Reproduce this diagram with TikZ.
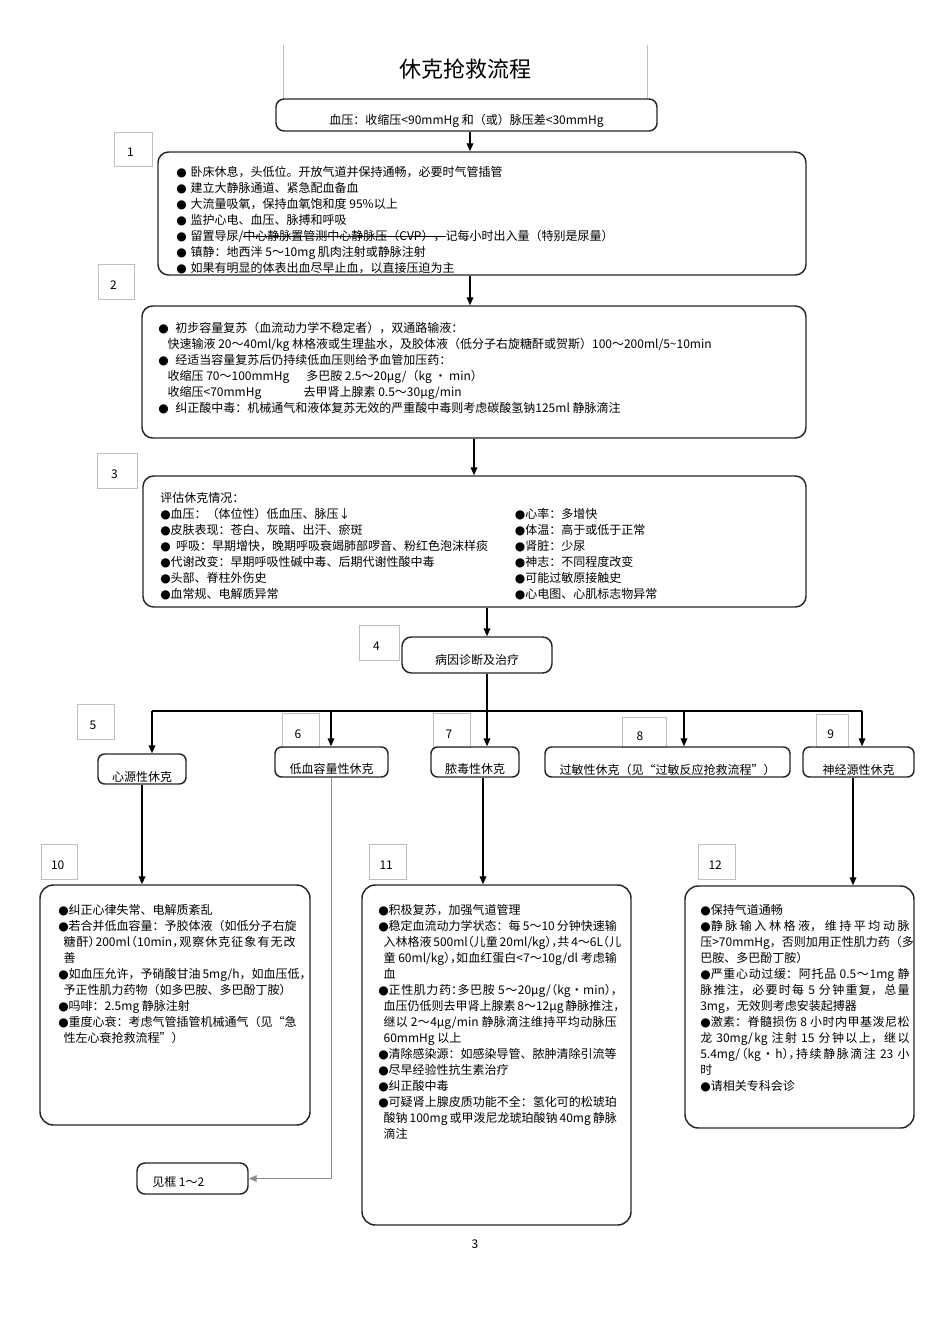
\documentclass[tikz,border=0pt]{standalone}
\usepackage{fontspec}
\setmainfont{Noto Sans CJK SC}
\newfontfamily\dotfont{DejaVu Sans}
\newfontfamily\halffont[RawFeature=+halt]{Noto Sans CJK SC}
\usepackage{tikz}
\usetikzlibrary{
  arrows.meta,
  fit,
  positioning
}
\XeTeXlinebreaklocale "zh"
\XeTeXlinebreakskip=0pt plus 1pt
\XeTeXlinebreakpenalty=10000
\setlength{\parindent}{0pt}
\newcommand{\blt}{{\dotfont ●}}
\newsavebox{\strikebox}
\newcommand{\strikeout}[1]{\sbox{\strikebox}{#1}\rlap{\rule[0.32em]{\wd\strikebox}{0.6pt}}\usebox{\strikebox}}
\tikzset{
  >={Triangle[length=6pt,width=5pt]},
  every label/.style={inner sep=0pt, font=\fontsize{9}{11}\selectfont},
  flowbox/.style={draw=black!85, line width=1.1pt, rounded corners=8pt, inner sep=0pt},
  tagbox/.style={flowbox, rounded corners=5pt},
  numbox/.style={draw=black!25, line width=0.5pt, inner sep=0pt},
  bodytext/.style={inner sep=0pt, anchor=north west, align=left,
    font=\fontsize{9}{12}\selectfont},
  longtext/.style={inner sep=0pt, anchor=north west, align=justify,
    font=\fontsize{9}{12}\selectfont},
  link/.style={->, line width=1.1pt}
}

\begin{document}
\begin{tikzpicture}[x=0.75pt, y=-0.75pt]
    \useasboundingbox[fill=white] (0,0) rectangle (950,1344);
    % title
    \draw[black!25] (283,45) -- (283,99);
    \draw[black!25] (647,45) -- (647,99);
    \node[font=\fontsize{16.5}{20}\selectfont] (title) at (465,69) {休克抢救流程};
    \node[tagbox, rounded corners=6pt, fit={(276,99) (657,131)},
      label={[yshift=-4.5pt]center:血压：收缩压<90mmHg 和（或）脉压差<30mmHg}] (bp) {};
    % step boxes
    \node[numbox, fit={(114,132) (152,166)}, label={[yshift=-2.5pt, xshift=-2pt]center:1}] (n1) {};
    \node[flowbox, fit={(158,152) (806,275)}] (b1) {};
    \node[bodytext] (t1) at (176,166.5) {%
      \blt\hspace{3pt}卧床休息，头低位。开放气道并保持通畅，必要时气管插管\\
      \blt\hspace{3pt}建立大静脉通道、紧急配血备血\\
      \blt\hspace{3pt}大流量吸氧，保持血氧饱和度 95\%以上\\
      \blt\hspace{3pt}监护心电、血压、脉搏和呼吸\\
      \blt\hspace{3pt}留置导尿/\strikeout{中心静脉置管测中心静脉压（CVP），}记每小时出入量（特别是尿量）\\
      \blt\hspace{3pt}镇静：地西泮 5～10mg 肌肉注射或静脉注射\\
      \blt\hspace{3pt}如果有明显的体表出血尽早止血，以直接压迫为主};
    \node[numbox, fit={(98,264) (134,299)}, label={[yshift=-2.5pt, xshift=-2pt]center:2}] (n2) {};
    \node[flowbox, fit={(142,306) (806,438)}] (b2) {};
    \node[bodytext] (t2) at (158,321.5) {%
      \blt\hspace{5pt}初步容量复苏（血流动力学不稳定者），双通路输液：\\
      \hspace*{7pt}快速输液 20～40ml/kg 林格液或生理盐水，及胶体液（低分子右旋糖酐或贺斯）100～200ml/5\textasciitilde 10min\\
      \blt\hspace{5pt}经适当容量复苏后仍持续低血压则给予血管加压药：\\
      \hspace*{7pt}\makebox[104pt][l]{收缩压 70～100mmHg}多巴胺 2.5～20μg/（kg • min）\\
      \hspace*{7pt}\makebox[102pt][l]{收缩压<70mmHg}去甲肾上腺素 0.5～30μg/min\\
      \blt\hspace{5pt}纠正酸中毒：机械通气和液体复苏无效的严重酸中毒则考虑碳酸氢钠125ml 静脉滴注};
    \node[numbox, fit={(97,453) (137,488)}, label={[yshift=-2.5pt, xshift=-2pt]center:3}] (n3) {};
    \node[flowbox, fit={(143,476) (806,607)}] (b3) {};
    \node[bodytext] (t3) at (160,492.5) {%
      评估休克情况：\\
      \makebox[266pt][l]{\blt 血压：（体位性）低血压、脉压↓}\blt 心率：多增快\\
      \makebox[266pt][l]{\blt 皮肤表现：苍白、灰暗、出汗、瘀斑}\blt 体温：高于或低于正常\\
      \makebox[266pt][l]{\blt\hspace{4pt}呼吸：早期增快，晚期呼吸衰竭肺部啰音、粉红色泡沫样痰}\blt 肾脏：少尿\\
      \makebox[266pt][l]{\blt 代谢改变：早期呼吸性碱中毒、后期代谢性酸中毒}\blt 神志：不同程度改变\\
      \makebox[266pt][l]{\blt 头部、脊柱外伤史}\blt 可能过敏原接触史\\
      \makebox[266pt][l]{\blt 血常规、电解质异常}\blt 心电图、心肌标志物异常};
    \node[numbox, fit={(359,625) (399,660)}, label={[yshift=-2.5pt, xshift=-2pt]center:4}] (n4) {};
    \node[tagbox, rounded corners=7pt, fit={(402,637) (552,673)},
      label={[yshift=-3.75pt]center:病因诊断及治疗}] (b4) {};
    % shock types
    \node[numbox, fit={(77,704) (114,739)}, label={[yshift=-3pt, xshift=-2pt]center:5}] (n5) {};
    \node[tagbox, fit={(98,754) (186,784)}, label={[yshift=-6pt]center:心源性休克}] (b5) {};
    \node[numbox, fit={(282,713) (319,747)}, label={[yshift=-3pt, xshift=-2pt]center:6}] (n6) {};
    \node[tagbox, fit={(275,747) (388,777)}, label={[yshift=-5.25pt]center:低血容量性休克}] (b6) {};
    \node[numbox, fit={(433,713) (470,747)}, label={[yshift=-3pt, xshift=-2pt]center:7}] (n7) {};
    \node[tagbox, fit={(431,747) (519,777)}, label={[yshift=-5.25pt]center:脓毒性休克}] (b7) {};
    \node[numbox, fit={(622,717) (666,747)}, label={[yshift=-3pt, xshift=-3pt]center:8}] (n8) {};
    \node[tagbox, fit={(545,747) (790,777)},
      label={[yshift=-6pt]center:过敏性休克（见“过敏反应抢救流程”）}] (b8) {};
    \node[numbox, fit={(816,714) (848,747)}, label={[yshift=-3pt, xshift=-1pt]center:9}] (n9) {};
    \node[tagbox, fit={(803,747) (914,777)}, label={[yshift=-6pt]center:神经源性休克}] (b9) {};
    % treatment boxes
    \node[numbox, fit={(41,844) (77,879)}, label={[yshift=-3pt, xshift=-1pt]center:10}] (n10) {};
    \node[flowbox, rounded corners=10pt, fit={(40,885) (310,1125)}] (b10) {};
    \node[longtext, text width=178pt] (t10) at (58,904.5) {%
      \blt 纠正心律失常、电解质紊乱\\
      \blt 若合并低血容量：予胶体液（如低分子右旋\linebreak
      \hspace*{4pt}{\halffont 糖酐）200ml（10min，观察休克征象有无改}\linebreak
      \hspace*{4pt}善\\
      \blt 如血压允许，予硝酸甘油~5mg/h，如血压低，\linebreak
      \hspace*{4pt}予正性肌力药物（如多巴胺、多巴酚丁胺）\\
      \blt 吗啡：2.5mg~静脉注射\\
      \blt 重度心衰：考虑气管插管机械通气（见“急\linebreak
      \hspace*{4pt}性左心衰抢救流程”）};
    \node[numbox, fit={(369,844) (406,879)}, label={[yshift=-3pt, xshift=-1pt]center:11}] (n11) {};
    \node[flowbox, rounded corners=10pt, fit={(362,885) (631,1225)}] (b11) {};
    \node[longtext, text width=179pt] (t11) at (378,904.5) {%
      \blt 积极复苏，加强气道管理\\
      \blt 稳定血流动力学状态：每~5～10~分钟快速输\linebreak
      \hspace*{4pt}{\halffont 入林格液~500ml（儿童~20ml/kg），共~4～6L（儿}\linebreak
      \hspace*{4pt}{\halffont 童~60ml/kg），如血红蛋白<7～10g/dl~考虑输}\linebreak
      \hspace*{4pt}血\\
      \blt {\halffont 正性肌力药：多巴胺~5～20μg/（kg~•~min），}\linebreak
      \hspace*{4pt}{\halffont 血压仍低则去甲肾上腺素~8～12μg~静脉推注，}\linebreak
      \hspace*{4pt}继以~2～4μg/min~静脉滴注维持平均动脉压\linebreak
      \hspace*{4pt}60mmHg~以上\\
      \blt 清除感染源：如感染导管、脓肿清除引流等\\
      \blt 尽早经验性抗生素治疗\\
      \blt 纠正酸中毒\\
      \blt 可疑肾上腺皮质功能不全：氢化可的松琥珀\linebreak
      \hspace*{4pt}酸钠~100mg~或甲泼尼龙琥珀酸钠~40mg~静脉\linebreak
      \hspace*{4pt}滴注};
    \node[numbox, fit={(698,844) (735,879)}, label={[yshift=-3pt, xshift=-1pt]center:12}] (n12) {};
    \node[flowbox, rounded corners=10pt, fit={(685,886) (914,1128)}] (b12) {};
    \node[longtext, text width=157pt] (t12) at (700,904.5) {%
      \blt 保持气道通畅\\
      \blt 静脉输入林格液，维持平均动脉\linebreak
      压>70mmHg，否则加用正性肌力药（多\linebreak
      巴胺、多巴酚丁胺）\\
      \blt 严重心动过缓：阿托品~0.5～1mg~静\linebreak
      脉推注，必要时每~5~分钟重复，总量\linebreak
      3mg，无效则考虑安装起搏器\\
      \blt 激素：脊髓损伤~8~小时内甲基泼尼松\linebreak
      龙~30mg/kg~注射~15~分钟以上，继以\linebreak
      {\halffont 5.4mg/（kg~•~h），持续静脉滴注~23~小}\linebreak
      时\\
      \blt 请相关专科会诊};
    \node[flowbox, rounded corners=6pt, fit={(137,1163) (248,1194)}] (see) {};
    \node[inner sep=0pt, anchor=west, font=\fontsize{9}{11}\selectfont] (seetxt) at (152,1182) {见框 1～2};
    \node[font=\fontsize{9}{11}\selectfont] (page) at (475,1244) {3};
    % connectors
    \draw[link] (470,0 |- bp.south) -- (470,0 |- b1.north);
    \draw[link] (470,0 |- b1.south) -- (470,0 |- b2.north);
    \draw[link] (474,0 |- b2.south) -- (474,0 |- b3.north);
    \draw[link] (487,0 |- b3.south) -- (487,0 |- b4.north);
    \draw[link] (487,0 |- b4.south) -- (487,0 |- b7.north);
    \coordinate (bus) at (487,711);
    \draw[line width=1.1pt] (152,0 |- bus) -- (862,0 |- bus);
    \draw[link] (152,0 |- bus) -- (152,0 |- b5.north);
    \draw[link] (331,0 |- bus) -- (331,0 |- b6.north);
    \draw[link] (684,0 |- bus) -- (684,0 |- b8.north);
    \draw[link] (862,0 |- bus) -- (862,0 |- b9.north);
    \draw[link] (b5.south) -- (b5.south |- b10.north);
    \draw[link] (483,0 |- b7.south) -- (483,0 |- b11.north);
    \draw[link] (853,0 |- b9.south) -- (853,0 |- b12.north);
    \draw[link, draw=black!45, line width=0.9pt] (b6.south) |- (see.east);
\end{tikzpicture}
\end{document}
